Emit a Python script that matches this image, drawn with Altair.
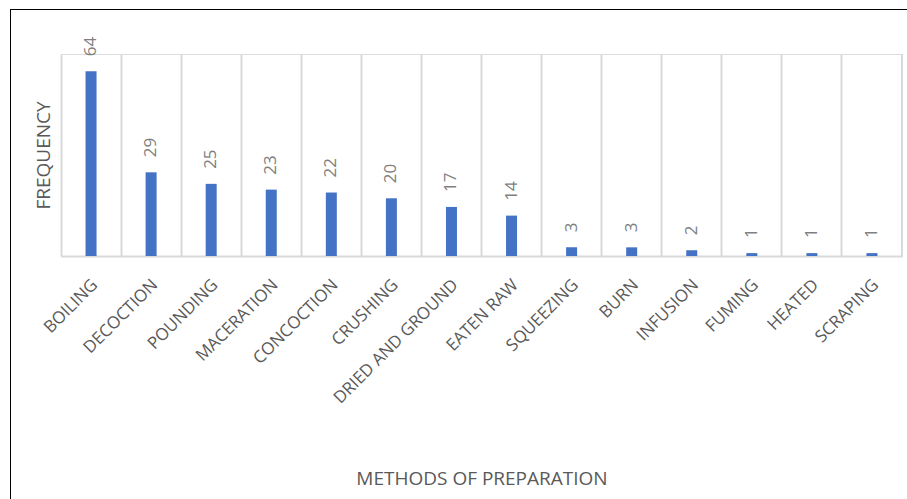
import altair as alt
import pandas as pd

methods = ["BOILING", "DECOCTION", "POUNDING", "MACERATION", "CONCOCTION", "CRUSHING",
           "DRIED AND GROUND", "EATEN RAW", "SQUEEZING", "BURN", "INFUSION", "FUMING",
           "HEATED", "SCRAPING"]
frequency = [64, 29, 25, 23, 22, 20, 17, 14, 3, 3, 2, 1, 1, 1]

df = pd.DataFrame({"method": methods, "freq": frequency})

W, H = 841, 202
FONT = "Open Sans"

x_enc = alt.X("method:N", sort=methods,
              scale=alt.Scale(paddingInner=0, paddingOuter=0),
              axis=alt.Axis(title="METHODS OF PREPARATION", labelAngle=315,
                            labelAlign="right", labelBaseline="middle",
                            labelPadding=26, labelOffset=4, ticks=False,
                            labelFont=FONT, labelFontSize=17, labelColor="#595959",
                            domain=True, domainColor="#d9d9d9", domainWidth=2,
                            grid=True, gridColor="#d9d9d9", gridWidth=2,
                            bandPosition=0,
                            titleFont=FONT, titleFontSize=19, titleFontWeight="normal",
                            titleColor="#595959", titleX=W / 2, titleY=222,
                            titleBaseline="middle", titleAlign="center"))
y_enc = alt.Y("freq:Q", scale=alt.Scale(domain=[0, 70]),
              axis=alt.Axis(title="FREQUENCY", labels=False, ticks=False, domain=False,
                            grid=False, titleFont=FONT, titleFontSize=19,
                            titleFontWeight="normal", titleColor="#595959",
                            titleAngle=270, titleX=-18, titleY=H / 2,
                            titleAlign="center", titleBaseline="middle"))

bars = alt.Chart(df).mark_bar(size=11, color="#4472C4").encode(x=x_enc, y=y_enc)

labels = alt.Chart(df).mark_text(angle=270, align="left", baseline="middle", dx=15,
                                 font=FONT, fontSize=17, color="#7f7f7f").encode(
    x=alt.X("method:N", sort=methods), y="freq:Q", text="freq:Q")

right_grid = alt.Chart(df).mark_rule(color="#d9d9d9", strokeWidth=2).encode(
    x=alt.value(W), y=alt.value(0), y2=alt.value(H))

frame_left = alt.Chart(df).mark_rule(color="black", strokeWidth=1).encode(
    x=alt.value(-50.5), y=alt.value(-45), y2=alt.value(445))
frame_top = alt.Chart(df).mark_rule(color="black", strokeWidth=1).encode(
    x=alt.value(-51), x2=alt.value(846), y=alt.value(-44.5))

chart = alt.layer(bars, labels, right_grid, frame_left, frame_top).properties(
    width=W, height=H,
    autosize=alt.AutoSizeParams(type="none"),
    padding={"left": 61, "top": 54, "right": 5, "bottom": 243},
).configure_view(stroke=None).configure(background="white")

chart.save("out.html", embed_options={"renderer": "svg", "actions": False})
